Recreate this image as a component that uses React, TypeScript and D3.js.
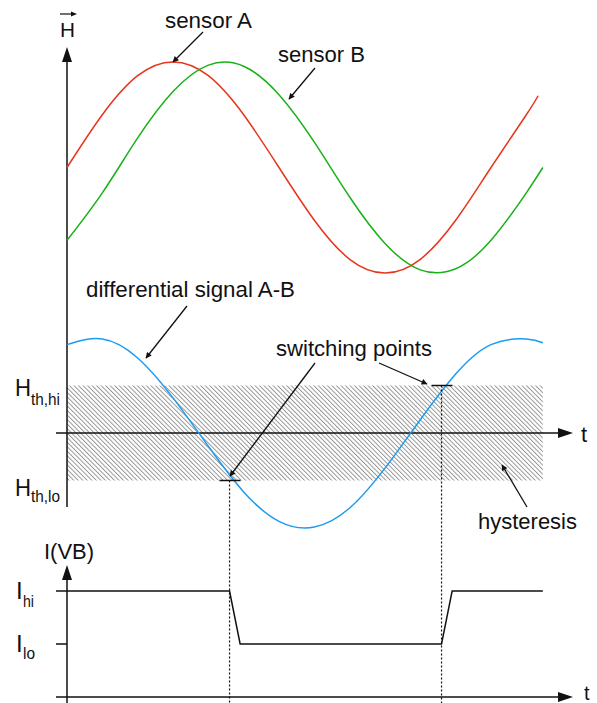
import React from 'react';
import * as d3 from 'd3';

// ---- data (phase in degrees) ----
const sensorAT = [0, 30, 60, 90, 120, 150, 180, 210, 240, 270, 300, 330, 360, 390, 400];
const sensorAH = [0, 0.5, 0.87, 1, 0.87, 0.5, 0, -0.5, -0.87, -1, -0.87, -0.5, 0, 0.5, 0.68];
const sensorBT = [0, 30, 60, 90, 120, 150, 180, 210, 240, 270, 300, 330, 360, 390, 404];
const sensorBH = [-0.69, -0.24, 0.28, 0.72, 0.97, 0.96, 0.69, 0.24, -0.28, -0.72, -0.97, -0.96, -0.69, -0.24, 0];
const diffT = [0, 30, 60, 90, 120, 150, 180, 210, 240, 270, 300, 330, 360, 390, 404];
const diffH = [0.93, 0.99, 0.79, 0.37, -0.14, -0.62, -0.93, -0.99, -0.79, -0.37, 0.14, 0.62, 0.93, 0.99, 0.95];
const thresholds = [0.5, -0.5]; // H_th,hi , H_th,lo
const switchT = [138, 318]; // lo switch, hi switch
const currentT = [0, 138, 147, 318, 327, 404];
const currentI = [2, 2, 1, 1, 2, 2]; // 2 = I_hi, 1 = I_lo, 0 = axis
const tMax = 404;

const FONT = "'Liberation Sans', Arial, Helvetica, sans-serif";

const x = d3.scaleLinear().domain([0, 360]).range([67, 491]);
const yH = d3.scaleLinear().domain([-1, 1]).range([273, 62]);
const yD = d3.scaleLinear().domain([-1, 1]).range([528, 338]);
const yI = d3.scaleLinear().domain([0, 2]).range([697, 591]);

const RED = '#e8341c';
const GREEN = '#18b218';
const BLUE = '#1a9cf2';

function Label({ text, x0, y0, fs, w }: { text: string; x0: number; y0: number; fs: number; w?: number }) {
  return (
    <text x={x0} y={y0} fontSize={fs} fontFamily={FONT} fill="#111"
      {...(w ? { textLength: w, lengthAdjust: 'spacingAndGlyphs' } : {})}>
      {text}
    </text>
  );
}

export default function App() {
  const lineH = d3.line<[number, number]>().x(d => x(d[0])).y(d => yH(d[1])).curve(d3.curveNatural);
  const lineD = d3.line<[number, number]>().x(d => x(d[0])).y(d => yD(d[1])).curve(d3.curveNatural);
  const lineI = d3.line<[number, number]>().x(d => x(d[0])).y(d => yI(d[1]));

  const aPts = sensorAT.map((t, i) => [t, sensorAH[i]] as [number, number]);
  const bPts = sensorBT.map((t, i) => [t, sensorBH[i]] as [number, number]);
  const dPts = diffT.map((t, i) => [t, diffH[i]] as [number, number]);
  const iPts = currentT.map((t, i) => [t, currentI[i]] as [number, number]);

  const x0 = x(0);
  const xEnd = x(tMax);
  const yZero = yD(0);
  const yHi = yD(thresholds[0]);
  const yLo = yD(thresholds[1]);
  const axisArrowX = 573;

  const ann = { stroke: '#111', strokeWidth: 1.3, markerEnd: 'url(#ah)' } as any;

  return (
    <svg width={597} height={703} style={{ position: 'absolute', left: 0, top: 0, background: '#fff' }}>
      <defs>
        <pattern id="hatch" patternUnits="userSpaceOnUse" width={3.2} height={3.2} patternTransform="rotate(-45)">
          <line x1={0.5} y1={-1} x2={0.5} y2={5} stroke="#777" strokeWidth={0.75} />
        </pattern>
        <marker id="ah" viewBox="0 0 10 10" refX={9} refY={5} markerWidth={7} markerHeight={6}
          markerUnits="userSpaceOnUse" orient="auto">
          <path d="M0,0 L10,5 L0,10 z" fill="#111" />
        </marker>
      </defs>

      {/* hysteresis band */}
      <rect x={x0} y={yHi} width={xEnd - x0} height={yLo - yHi} fill="url(#hatch)" />

      {/* top axis (H) */}
      <line x1={x0} y1={60} x2={x0} y2={507} stroke="#111" strokeWidth={1.5} />
      <path d={`M${x0},47 L${x0 - 5},62 L${x0 + 5},62 Z`} fill="#111" />
      <line x1={56} y1={yZero} x2={axisArrowX - 14} y2={yZero} stroke="#111" strokeWidth={1.5} />
      <path d={`M${axisArrowX},${yZero} L${axisArrowX - 15},${yZero - 5} L${axisArrowX - 15},${yZero + 5} Z`} fill="#111" />

      {/* sensor curves */}
      <path d={lineH(aPts)!} fill="none" stroke={RED} strokeWidth={1.5} />
      <path d={lineH(bPts)!} fill="none" stroke={GREEN} strokeWidth={1.5} />
      <path d={lineD(dPts)!} fill="none" stroke={BLUE} strokeWidth={1.5} />

      {/* switching markers */}
      <line x1={x(switchT[0]) - 10} y1={yLo} x2={x(switchT[0]) + 11} y2={yLo} stroke="#111" strokeWidth={1.5} />
      <line x1={x(switchT[1]) - 10} y1={yHi} x2={x(switchT[1]) + 11} y2={yHi} stroke="#111" strokeWidth={1.5} />
      <line x1={x(switchT[0])} y1={yLo} x2={x(switchT[0])} y2={703} stroke="#111" strokeWidth={1.2} strokeDasharray="2,2" />
      <line x1={x(switchT[1])} y1={yHi} x2={x(switchT[1])} y2={703} stroke="#111" strokeWidth={1.2} strokeDasharray="2,2" />

      {/* bottom axis (I) */}
      <line x1={x0} y1={578} x2={x0} y2={703} stroke="#111" strokeWidth={1.5} />
      <path d={`M${x0},565 L${x0 - 5},580 L${x0 + 5},580 Z`} fill="#111" />
      <line x1={56} y1={yI(0)} x2={axisArrowX - 14} y2={yI(0)} stroke="#111" strokeWidth={1.5} />
      <path d={`M${axisArrowX},${yI(0)} L${axisArrowX - 15},${yI(0) - 5} L${axisArrowX - 15},${yI(0) + 5} Z`} fill="#111" />
      <line x1={56} y1={yI(2)} x2={x0} y2={yI(2)} stroke="#111" strokeWidth={1.5} />
      <line x1={56} y1={yI(1)} x2={x0} y2={yI(1)} stroke="#111" strokeWidth={1.5} />
      <path d={lineI(iPts)!} fill="none" stroke="#111" strokeWidth={1.5} />

      {/* annotation arrows */}
      <line x1={203} y1={32} x2={173} y2={62} {...ann} />
      <line x1={315} y1={68} x2={289} y2={99} {...ann} />
      <line x1={187} y1={306} x2={146} y2={358} {...ann} />
      <line x1={315} y1={363} x2={230} y2={476} {...ann} />
      <line x1={379} y1={363} x2={427} y2={384} {...ann} />
      <line x1={527} y1={507} x2={502} y2={465} {...ann} />

      {/* labels */}
      <Label text="H" x0={60} y0={37} fs={21} w={15} />
      <line x1={60} y1={14} x2={74} y2={14} stroke="#111" strokeWidth={1.2} />
      <path d="M77,14 L71,11.5 L71,16.5 Z" fill="#111" />
      <Label text="sensor A" x0={165} y0={28} fs={22} w={87} />
      <Label text="sensor B" x0={278} y0={62} fs={22} w={87} />
      <Label text="differential signal A-B" x0={86} y0={297} fs={22} w={209} />
      <Label text="switching points" x0={276} y0={356} fs={22} w={156} />
      <Label text="hysteresis" x0={478} y0={529} fs={22} w={99} />
      <Label text="t" x0={581} y0={442} fs={22} />
      <Label text="t" x0={584} y0={700} fs={20} />

      <Label text="H" x0={15} y0={396} fs={24} w={16} />
      <Label text="th,hi" x0={31} y0={405} fs={16} w={29} />
      <Label text="H" x0={15} y0={496} fs={24} w={16} />
      <Label text="th,lo" x0={31} y0={502} fs={16} w={29} />

      <Label text="I(VB)" x0={44} y0={559} fs={22} w={50} />
      <Label text="I" x0={16} y0={599} fs={24} />
      <Label text="hi" x0={23} y0={607} fs={16} w={11} />
      <Label text="I" x0={16} y0={652} fs={24} />
      <Label text="lo" x0={23} y0={659} fs={16} w={12} />
    </svg>
  );
}
